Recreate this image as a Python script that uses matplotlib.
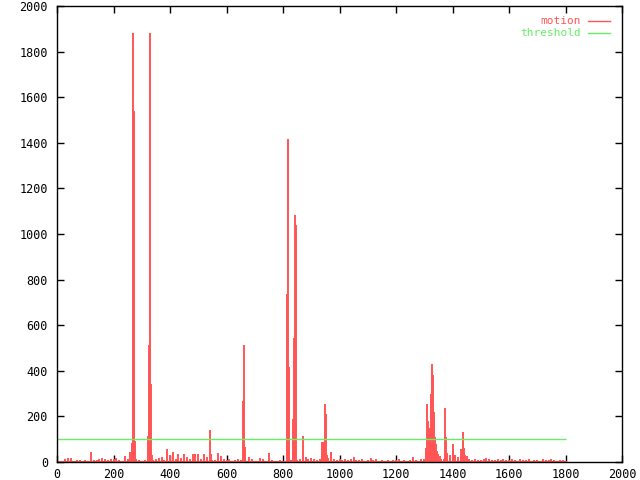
import numpy as np
import matplotlib
matplotlib.use("Agg")
import matplotlib.pyplot as plt
from matplotlib.lines import Line2D

# background motion, one value every 10 frames (0..1800)
base_motion = [
    4, 6, 3, 12, 19, 18, 6, 8, 9, 5,
    7, 6, 45, 8, 10, 14, 18, 12, 10, 15,
    12, 18, 9, 6, 25, 14, 45, 15, 14, 8,
    6, 8, 5, 7, 10, 12, 16, 20, 9, 57,
    30, 45, 12, 35, 18, 35, 20, 14, 35, 35,
    35, 12, 35, 20, 10, 10, 8, 40, 25, 15,
    10, 14, 6, 8, 12, 8, 5, 4, 20, 12,
    5, 6, 18, 12, 6, 41, 8, 5, 4, 10,
    6, 5, 8, 10, 6, 8, 12, 12, 20, 14,
    18, 12, 10, 15, 20, 12, 18, 44, 12, 10,
    14, 10, 15, 8, 12, 20, 10, 8, 15, 6,
    10, 18, 8, 12, 6, 10, 5, 8, 6, 10,
    8, 12, 6, 10, 5, 8, 20, 10, 6, 15,
    15, 20, 12, 18, 25, 20, 15, 12, 18, 20,
    15, 30, 10, 20, 35, 25, 12, 8, 15, 10,
    10, 15, 18, 12, 8, 10, 14, 8, 12, 10,
    8, 15, 10, 6, 12, 8, 10, 14, 6, 8,
    10, 6, 12, 8, 10, 14, 8, 6, 10, 8,
    5,
]
base_frames = np.arange(len(base_motion)) * 10

# the big motion events
peak_frames = [264, 266, 268, 270, 272, 274, 276,
               323, 327, 330, 333, 336,
               541, 545,
               658, 661, 664,
               815, 819, 822, 837, 840, 844, 847, 872,
               939, 942, 946, 950, 953, 956, 971,
               1306, 1310, 1313, 1317, 1320, 1324, 1327, 1331, 1334, 1338, 1341, 1345, 1350, 1355,
               1373, 1376, 1380, 1390, 1400, 1403, 1410, 1420, 1430, 1436, 1438, 1441, 1445]
peak_motion = [45, 83, 118, 1883, 1540, 276, 90,
               114, 513, 1880, 342, 30,
               140, 35,
               268, 513, 67,
               737, 1417, 417, 189, 544, 1083, 1039, 114,
               88, 88, 88, 254, 210, 31, 44,
               60, 255, 180, 120, 150, 300, 430, 380, 220, 110, 80, 50, 35, 25,
               235, 110, 40, 30, 79, 50, 25, 20, 55, 90, 130, 60, 30]

threshold = 100

frames = np.concatenate([base_frames, peak_frames])
motion = np.concatenate([base_motion, peak_motion])

red = '#ff5555'
green = '#66ee66'
mono = 'DejaVu Sans Mono'

fig = plt.figure(figsize=(6.4, 4.8), dpi=100)
ax = fig.add_axes([57 / 640, 18 / 480, 565 / 640, 456 / 480])

ax.vlines(frames, 0, motion, color=red, lw=1.4)
ax.hlines(0, frames.min(), frames.max(), color=red, lw=1.5)
ax.hlines(threshold, frames.min(), frames.max(), color=green, lw=1)

ax.set_xlim(0, 2000)
ax.set_ylim(0, 2000)
ax.set_xticks(np.arange(0, 2001, 200))
ax.set_yticks(np.arange(0, 2001, 200))
ax.tick_params(direction='in', top=True, right=True, length=5, width=1,
               labelsize=8.5)
ax.tick_params(axis='x', pad=4)
ax.tick_params(axis='y', pad=6.5)
for lab in ax.get_xticklabels() + ax.get_yticklabels():
    lab.set_family(mono)
for s in ax.spines.values():
    s.set_linewidth(1)

# gnuplot-style key, top right
fig.text(581 / 640, 1 - 21 / 480, 'motion', color=red, family=mono,
         fontsize=8, ha='right', va='center')
fig.text(581 / 640, 1 - 33 / 480, 'threshold', color=green, family=mono,
         fontsize=8, ha='right', va='center')
fig.add_artist(Line2D([588 / 640, 610 / 640], [1 - 21 / 480] * 2, color=red, lw=1))
fig.add_artist(Line2D([588 / 640, 610 / 640], [1 - 33 / 480] * 2, color=green, lw=1))

fig.savefig('out.png', dpi=100)
